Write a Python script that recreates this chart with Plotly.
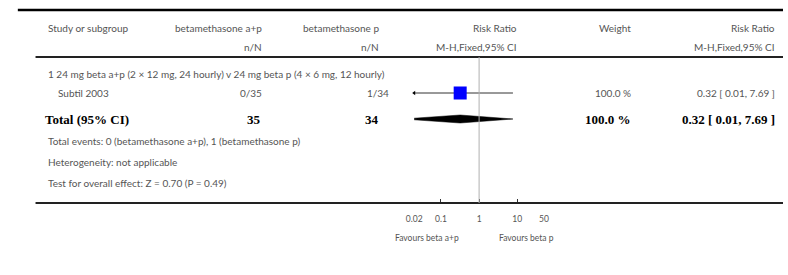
import plotly.graph_objects as go
import math

# ---------------- data ----------------
studies = ["Subtil 2003"]
events_ap = [0]
total_ap = [35]
events_p = [1]
total_p = [34]
risk_ratio = [0.32]
ci_low = [0.01]
ci_high = [7.69]
weight = [100.0]

pooled_rr = 0.32
pooled_low = 0.01
pooled_high = 7.69
pooled_weight = 100.0

subgroup_title = "1 24 mg beta a+p (2 × 12 mg, 24 hourly) v 24 mg beta p (4 × 6 mg, 12 hourly)"
tick_vals = [0.02, 0.1, 1, 10, 50]
tick_labels = ["0.02", "0.1", "1", "10", "50"]
favours_left = "Favours beta a+p"
favours_right = "Favours beta p"
footer_lines = [
    "Total events: 0 (betamethasone a+p), 1 (betamethasone p)",
    "Heterogeneity: not applicable",
    "Test for overall effect: Z = 0.70 (P = 0.49)",
]

# ---------------- layout helpers ----------------
W, H = 788, 275
AXIS_Y = 203          # pixel row of the forest axis
SANS = "Lato, 'Open Sans', sans-serif"
SERIF = "'Liberation Serif', 'DejaVu Serif', serif"
GREY = "#555555"

def px(x):
    return x / W

def py(y):
    return 1 - y / H

annotations = []

def txt(x, y, s, anchor="left", size=10, font=SANS, color=GREY, bold=False):
    if bold:
        s = "<b>" + s + "</b>"
    annotations.append(dict(
        x=px(x), y=py(y), xref="paper", yref="paper", text=s, showarrow=False,
        xanchor=anchor, yanchor="middle", borderpad=0,
        font=dict(family=font, size=size, color=color)))

# headers
txt(40, 28, "Study or subgroup")
txt(259, 28, "betamethasone a+p", "right")
txt(259, 47, "n/N", "right")
txt(378, 28, "betamethasone p", "right")
txt(378, 47, "n/N", "right")
txt(519, 28, "Risk Ratio", "right")
txt(519, 47, "M-H,Fixed,95% CI", "right")
txt(634, 28, "Weight", "right")
txt(781, 28, "Risk Ratio", "right")
txt(781, 47, "M-H,Fixed,95% CI", "right")

# subgroup + study rows
txt(40, 74, subgroup_title)
row_y = [93]
for i, s in enumerate(studies):
    y = row_y[i]
    txt(50, y, s)
    txt(259, y, f"{events_ap[i]}/{total_ap[i]}", "right")
    txt(388, y, f"{events_p[i]}/{total_p[i]}", "right")
    txt(634, y, f"{weight[i]:.1f} %", "right")
    txt(781, y, f"{risk_ratio[i]:.2f} [ {ci_low[i]:.2f}, {ci_high[i]:.2f} ]", "right")

# total row
TOT_Y = 119
txt(37, TOT_Y, "Total (95% CI)", size=13, font=SERIF, color="black", bold=True)
txt(258, TOT_Y, str(sum(total_ap)), "right", size=13, font=SERIF, color="black", bold=True)
txt(378, TOT_Y, str(sum(total_p)), "right", size=13, font=SERIF, color="black", bold=True)
txt(634, TOT_Y, f"{pooled_weight:.1f} %", "right", size=13, font=SERIF, color="black", bold=True)
txt(781, TOT_Y, f"{pooled_rr:.2f} [ {pooled_low:.2f}, {pooled_high:.2f} ]", "right",
    size=13, font=SERIF, color="black", bold=True)

for k, line in enumerate(footer_lines):
    txt(40, 141 + 21 * k, line)

txt(460, 238, favours_left, "right", size=8.5)
txt(498, 238, favours_right, "left", size=8.5)

# ---------------- forest plot ----------------
xmin, xmax = min(tick_vals), max(tick_vals)
x_left_px, x_right_px = 413, 545

fig = go.Figure()

for i in range(len(studies)):
    y = row_y[i]
    fig.add_trace(go.Scatter(x=[ci_low[i], ci_high[i]], y=[y, y], mode="lines",
                             line=dict(color="#333", width=1), hoverinfo="skip"))
    if ci_low[i] < xmin:
        fig.add_trace(go.Scatter(x=[xmin], y=[y], mode="markers",
                                 marker=dict(symbol="triangle-left", size=4, color="black"),
                                 cliponaxis=False, hoverinfo="skip"))
    fig.add_trace(go.Scatter(x=[risk_ratio[i]], y=[y], mode="markers",
                             marker=dict(symbol="square", size=13, color="#0000ff",
                                         line=dict(width=0)), hoverinfo="skip"))

# pooled diamond
fig.add_trace(go.Scatter(
    x=[pooled_low, pooled_rr, pooled_high, pooled_rr, pooled_low],
    y=[TOT_Y, TOT_Y - 4, TOT_Y, TOT_Y + 4, TOT_Y],
    mode="lines", fill="toself", fillcolor="black",
    line=dict(color="black", width=0.5), hoverinfo="skip"))

shapes = [
    dict(type="line", xref="paper", yref="paper", x0=px(10), x1=1, y0=py(10), y1=py(10),
         line=dict(color="black", width=2.5)),
    dict(type="line", xref="paper", yref="paper", x0=px(28), x1=1, y0=py(57), y1=py(57),
         line=dict(color="#222", width=1.8)),
    dict(type="line", xref="paper", yref="paper", x0=px(28), x1=1, y0=py(AXIS_Y), y1=py(AXIS_Y),
         line=dict(color="#222", width=1.8)),
    dict(type="line", xref="x", yref="y", x0=1, x1=1, y0=57, y1=AXIS_Y,
         line=dict(color="#b0b0b0", width=1)),
]

fig.update_layout(
    width=W, height=H, margin=dict(l=0, r=0, t=0, b=0),
    paper_bgcolor="white", plot_bgcolor="rgba(0,0,0,0)",
    showlegend=False, annotations=annotations, shapes=shapes,
    xaxis=dict(type="log", domain=[px(x_left_px), px(x_right_px)],
               range=[math.log10(xmin), math.log10(xmax)],
               tickvals=tick_vals, ticktext=tick_labels,
               ticks="inside", ticklen=4, tickcolor="#333", tickwidth=1,
               ticklabelstandoff=9,
               showgrid=False, zeroline=False, showline=False,
               tickfont=dict(family=SANS, size=8.5, color=GREY),
               fixedrange=True),
    yaxis=dict(domain=[1 - AXIS_Y / H, 1], range=[AXIS_Y, 0],
               visible=False, showgrid=False, zeroline=False, fixedrange=True),
)

fig.write_html("out.html", config={"displayModeBar": False},
               post_script="document.body.style.margin='0';document.body.style.overflow='hidden';")
